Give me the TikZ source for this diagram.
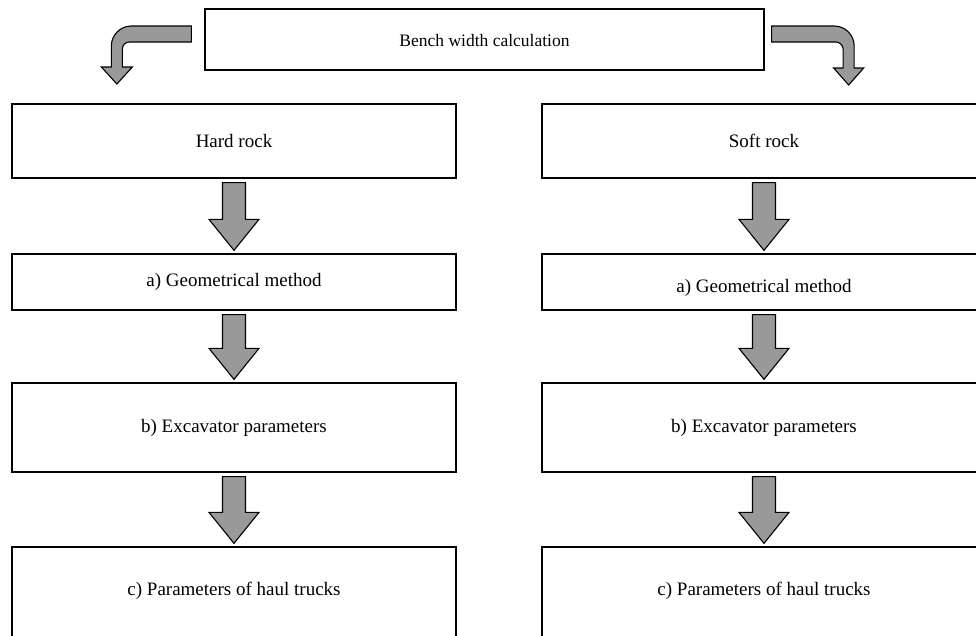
\documentclass[tikz,border=0pt]{standalone}
\usepackage{fontspec}
\setmainfont{Liberation Serif}
\usetikzlibrary{calc}
\definecolor{arrowgray}{RGB}{153,153,153}
\newcommand\blockdown[2]{%
  \draw[blk] let \p1=(#1.south), \p2=(#2.north) in
    (\x1-11.5pt,\y1-4pt) -- (\x1-11.5pt,\y2+34pt) -- (\x1-25pt,\y2+34pt) --
    (\x1,\y2+3pt) -- (\x1+25pt,\y2+34pt) -- (\x1+11.5pt,\y2+34pt) --
    (\x1+11.5pt,\y1-4pt) -- cycle;}
\begin{document}
\begin{tikzpicture}[x=1pt,y=-1pt,
  box/.style={draw=black, line width=1.3pt, fill=white, inner sep=0pt,
    minimum width=444pt, font=\fontsize{19}{23}\selectfont},
  blk/.style={draw=black, line width=1.1pt, fill=arrowgray, line join=miter}]
\useasboundingbox (0,0) rectangle (976,635);
\clip (0,0) rectangle (976,635);
\fill[white] (0,0) rectangle (976,635);

\node[box, minimum width=559pt, minimum height=61pt, text height=17.1pt, text depth=3.5pt, font=\fontsize{17.5}{21}\selectfont] (top) at (484.5,39.5) {Bench width calculation};

\node[box, minimum height=74pt] (hard) at (234,141) {Hard rock};
\node[box, minimum height=56pt] (hgeo) at (234,282) {a) Geometrical method};
\node[box, minimum height=89pt] (hexc) at (234,427.5) {b) Excavator parameters};
\node[box, minimum height=100pt, text height=13.1pt, text depth=15.8pt] (hhaul) at (234,597) {c) Parameters of haul trucks};

\node[box, minimum height=74pt] (soft) at (764,141) {Soft rock};
\node[box, minimum height=56pt, text height=25.1pt, text depth=3.8pt] (sgeo) at (764,282) {a) Geometrical method};
\node[box, minimum height=89pt] (sexc) at (764,427.5) {b) Excavator parameters};
\node[box, minimum height=100pt, text height=13.1pt, text depth=15.8pt] (shaul) at (764,597) {c) Parameters of haul trucks};

\blockdown{hard}{hgeo}
\blockdown{hgeo}{hexc}
\blockdown{hexc}{hhaul}
\blockdown{soft}{sgeo}
\blockdown{sgeo}{sexc}
\blockdown{sexc}{shaul}

\begin{scope}[shift={(top.west)}]
\draw[blk] (-13,-13.5) -- (-73,-13.5) .. controls (-84.05,-13.5) and (-93,-4.45) .. (-93,6.5)
  -- (-93,27.5) -- (-103,27.5) -- (-87.5,44.5) -- (-72,27.5) -- (-82,27.5) -- (-82,9.5)
  .. controls (-82,5.63) and (-78.87,2.5) .. (-75,2.5) -- (-13,2.5) -- cycle;
\end{scope}
\begin{scope}[shift={(top.east)}]
\draw[blk] (7,-13.5) -- (69.5,-13.5) .. controls (80.55,-13.5) and (89.5,-4.55) .. (89.5,6.5)
  -- (89.5,28.5) -- (99,28.5) -- (84,45.5) -- (69,28.5) -- (78.5,28.5) -- (78.5,9.5)
  .. controls (78.5,5.63) and (74.63,2.5) .. (71.5,2.5) -- (7,2.5) -- cycle;
\end{scope}
\end{tikzpicture}
\end{document}
